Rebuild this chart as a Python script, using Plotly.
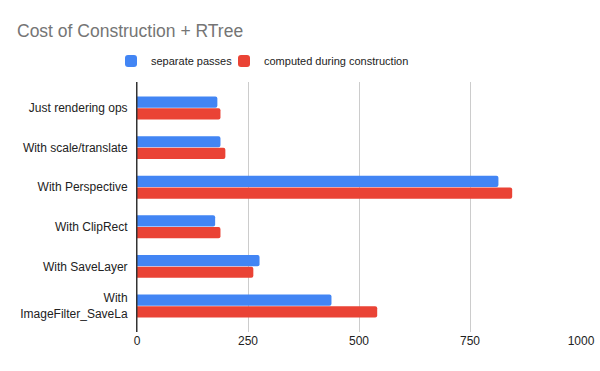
import plotly.graph_objects as go

categories = ["Just rendering ops", "With scale/translate", "With Perspective",
              "With ClipRect", "With SaveLayer", "With<br>ImageFilter_SaveLa"]
separate_passes = [181, 188, 814, 176, 276, 438]
computed_during = [188, 199, 845, 188, 262, 541]
x_ticks = [0, 250, 500, 750, 1000]

fig = go.Figure()
fig.add_trace(go.Bar(y=categories, x=separate_passes, orientation="h",
                     name="separate passes", legend="legend", showlegend=True,
                     marker=dict(color="#4285F4", line_width=0)))
fig.add_trace(go.Bar(y=categories, x=computed_during, orientation="h",
                     name="computed during construction", legend="legend2", showlegend=True,
                     marker=dict(color="#EA4335", line_width=0)))

leg_common = dict(orientation="h", xanchor="left", y=1 + (82 - 61) / 250, yanchor="middle",
                  font=dict(size=11, color="#222222"), itemwidth=30,
                  bgcolor="rgba(0,0,0,0)", visible=True)

fig.update_layout(
    width=600, height=371,
    showlegend=True,
    margin=dict(l=137, r=19, t=82, b=39, autoexpand=False),
    paper_bgcolor="white", plot_bgcolor="white",
    font=dict(family="Liberation Sans, Arial, sans-serif", size=12, color="#222222"),
    title=dict(text="Cost of Construction + RTree", x=17/600, xanchor="left", xref="container",
               y=1 - 31/371, yanchor="middle", yref="container",
               font=dict(family="Liberation Sans, Arial, sans-serif", size=17.5, color="#757575")),
    barmode="group", bargap=0.41, bargroupgap=0.04, barcornerradius=2,
    legend=dict(x=(111 - 137) / 444, **leg_common),
    legend2=dict(x=(224 - 137) / 444, **leg_common),
    xaxis=dict(range=[0, 1000], tickvals=x_ticks, ticktext=[str(v) for v in x_ticks],
               showgrid=True, gridcolor="#cccccc", gridwidth=1, zeroline=False,
               showline=False, ticks="", automargin=False,
               tickfont=dict(size=12, color="#222222")),
    yaxis=dict(categoryorder="array", categoryarray=categories,
               range=[5.657, -0.657], showgrid=False, zeroline=False,
               showline=True, linecolor="#333333", linewidth=1, ticks="",
               automargin=False, ticklabelstandoff=6,
               tickfont=dict(size=12, color="#222222")),
)
fig.add_vline(x=0, line_color="#333333", line_width=1)

fig.write_html("out.html", config={"displayModeBar": False},
               post_script="document.body.style.margin='0';document.body.style.overflow='hidden';")
